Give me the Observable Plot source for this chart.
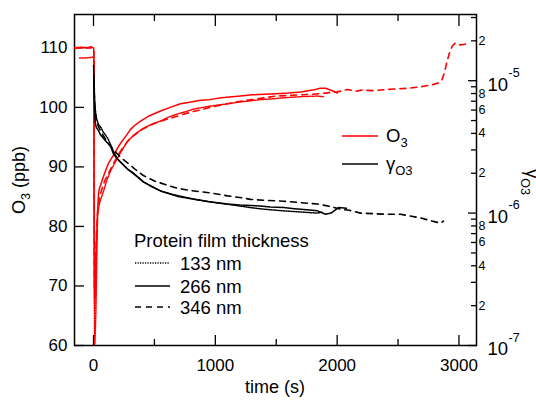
<!DOCTYPE html>
<html>
<head>
<meta charset="utf-8">
<script src="https://cdn.jsdelivr.net/npm/d3@7"></script>
<script src="https://cdn.jsdelivr.net/npm/@observablehq/plot@0.6"></script>
<style>
  html, body { margin: 0; padding: 0; background: #fff; }
  #chart { position: relative; width: 536px; height: 405px; font-family: "Liberation Sans", Arial, sans-serif; }
  #chart svg { position: absolute; left: 0; top: 0; }
</style>
</head>
<body>
<div id="chart"></div>
<script>
// ---- data: [time (s), O3 (ppb)] ----
const o3_133 = [[-115,108.3],[-60,108.3],[-20,108.4],[0,108.5],[3,108],[5,80],[8,62],[10,60],[13,61],[16,63],[20,66],[25,72],[30,78],[33,82],[50,84],[82,85.9],[110,87.8],[140,89.3],[170,90.5],[197,91.5],[240,93],[279,94.3],[340,95.5],[410,96.5],[480,97.2],[550,97.7],[620,98.4],[690,98.9],[760,99.3],[821,99.7],[950,100.2],[1100,100.6],[1200,100.9],[1289,101.1],[1371,101.3],[1450,101.4],[1560,101.6],[1700,101.8],[1839,101.9],[1888,101.8]];
const o3_266 = [[-156,110],[-100,110.1],[-50,110],[-20,110.2],[0,110],[3,109.5],[5,90],[7,70],[10,66],[13,72],[16,68],[20,75],[25,78],[30,80],[35,83],[41,85.5],[50,86.5],[60,87],[75,88],[98,89.3],[120,90.5],[150,91.5],[180,92.5],[210,93.6],[240,94.5],[270,95.3],[304,96.3],[340,97],[386,97.7],[450,98.5],[550,99.4],[630,100],[714,100.6],[800,100.9],[878,101.2],[950,101.3],[1050,101.6],[1207,101.9],[1300,102.1],[1400,102.2],[1500,102.3],[1600,102.4],[1700,102.6],[1800,102.9],[1860,103.2],[1905,103.2],[1960,102.8],[2003,102.4]];
const o3_346 = [[-156,110],[-80,110],[0,110],[3,109],[5,85],[8,70],[12,68],[18,74],[25,79],[35,83],[50,85],[80,87],[100,88],[150,90],[200,92],[250,93.5],[300,94.8],[400,96.3],[500,97.3],[600,98],[700,98.6],[800,99.2],[900,99.7],[1000,100.2],[1100,100.6],[1200,101],[1300,101.3],[1400,101.6],[1500,101.9],[1600,102],[1700,102.1],[1800,102.2],[1900,102.4],[2000,102.6],[2085,103],[2150,102.7],[2200,102.9],[2300,102.8],[2400,103],[2500,103.1],[2577,103.2],[2620,103.3],[2700,103.5],[2780,103.8],[2830,104.1],[2860,104.6],[2880,105.8],[2900,107.5],[2920,109],[2945,110.3],[2970,110.8],[3010,110.5],[3050,110.6],[3080,110.9]];
// ---- data: [time (s), gamma O3] ----
const g_133 = [[0,1.3e-5],[3,1.15e-5],[5,1e-5],[8,8e-6],[12,6.5e-6],[20,5.5e-6],[30,5e-6],[45,4.6e-6],[57,4.5e-6],[80,4.1e-6],[115,3.7e-6],[140,3.3e-6],[170,2.85e-6],[200,2.55e-6],[280,2.15e-6],[410,1.72e-6],[550,1.47e-6],[700,1.33e-6],[850,1.26e-6],[1000,1.2e-6],[1150,1.15e-6],[1289,1.1e-6],[1400,1.07e-6],[1560,1.04e-6],[1700,1.02e-6],[1839,1.0e-6],[1880,1.02e-6]];
const g_266 = [[2,1.1e-5],[5,8e-6],[8,6.5e-6],[12,5.2e-6],[18,4.6e-6],[25,4.4e-6],[41,4.2e-6],[57,3.9e-6],[100,3.5e-6],[140,3.2e-6],[164,2.8e-6],[197,2.55e-6],[279,2.15e-6],[330,2.0e-6],[410,1.72e-6],[480,1.58e-6],[550,1.47e-6],[650,1.38e-6],[750,1.32e-6],[821,1.28e-6],[950,1.22e-6],[1100,1.17e-6],[1200,1.15e-6],[1289,1.14e-6],[1370,1.13e-6],[1450,1.11e-6],[1560,1.1e-6],[1650,1.08e-6],[1750,1.06e-6],[1839,1.04e-6],[1905,0.98e-6],[1950,1.0e-6],[2011,1.1e-6],[2077,1.09e-6]];
const g_346 = [[3,1.0e-5],[6,8e-6],[10,6.5e-6],[20,5.2e-6],[40,4.5e-6],[70,4.0e-6],[100,3.6e-6],[140,3.2e-6],[180,2.9e-6],[230,2.6e-6],[279,2.4e-6],[340,2.15e-6],[410,1.92e-6],[500,1.75e-6],[600,1.63e-6],[690,1.54e-6],[800,1.48e-6],[960,1.42e-6],[1100,1.35e-6],[1231,1.3e-6],[1289,1.27e-6],[1400,1.25e-6],[1560,1.23e-6],[1700,1.2e-6],[1839,1.17e-6],[1950,1.12e-6],[2028,1.07e-6],[2100,1.05e-6],[2192,1.0e-6],[2300,0.99e-6],[2400,0.98e-6],[2520,0.98e-6],[2600,0.95e-6],[2684,0.92e-6],[2760,0.88e-6],[2848,0.84e-6],[2873,0.87e-6]];

// ---- ticks ----
const xMajor = [0, 1000, 2000, 3000];
const xMinor = [500, 1500, 2500];
const yTicks = [60, 70, 80, 90, 100, 110];
const gMajor = [1e-7, 1e-6, 1e-5];
const gMinor = [2e-7,3e-7,4e-7,5e-7,6e-7,7e-7,8e-7,9e-7,2e-6,3e-6,4e-6,5e-6,6e-6,7e-6,8e-6,9e-6,2e-5,3e-5];
const gMinorLabeled = [2e-7,4e-7,6e-7,8e-7,2e-6,4e-6,6e-6,8e-6,2e-5];
const gMinorText = ["2","4","6","8","2","4","6","8","2"];
const gMajorExp = ["-7", "-6", "-5"];
const thicknessLabels = ["133 nm", "266 nm", "346 nm"];

const W = 536, H = 405;
const M = {left: 74, right: 60, top: 14, bottom: 60};
const xDomain = [-156, 3144];
const FS = 17;
const dash = {"133": "1.2,1.3", "266": null, "346": "6,5"};

const common = {
  width: W, height: H,
  marginLeft: M.left, marginRight: M.right, marginTop: M.top, marginBottom: M.bottom,
};

const p1 = Plot.plot({
  ...common,
  style: {background: "transparent", fontFamily: "Liberation Sans, Arial, sans-serif", fontSize: FS + "px", overflow: "visible"},
  x: {domain: xDomain, label: null},
  y: {domain: [60, 115.6], label: null},
  marks: [
    Plot.frame({stroke: "black", strokeWidth: 1.5}),
    Plot.axisY({anchor: "left", ticks: yTicks, tickSize: 10, dx: 10, text: null, strokeWidth: 1.3, label: null}),
    Plot.axisY({anchor: "left", ticks: yTicks, tickSize: 0, tickPadding: 7, fontSize: FS, label: null}),
    Plot.axisX({anchor: "bottom", ticks: xMajor, tickSize: 10, dy: -10, text: null, strokeWidth: 1.3, label: null}),
    Plot.axisX({anchor: "bottom", ticks: xMinor, tickSize: 6, dy: -6, text: null, strokeWidth: 1.3, label: null}),
    Plot.axisX({anchor: "bottom", ticks: xMajor, tickSize: 0, tickPadding: 13, fontSize: FS, tickFormat: d => String(d), label: null}),
    Plot.axisX({anchor: "top", ticks: xMajor, tickSize: 11, dy: 11, text: null, strokeWidth: 1.3, label: null}),
    Plot.axisX({anchor: "top", ticks: xMinor, tickSize: 6, dy: 6, text: null, strokeWidth: 1.3, label: null}),
    Plot.line(o3_133, {x: "0", y: "1", stroke: "#ff0000", strokeWidth: 1.5, strokeDasharray: dash["133"], clip: true}),
    Plot.line(o3_346, {x: "0", y: "1", stroke: "#ff0000", strokeWidth: 1.6, strokeDasharray: dash["346"], clip: true}),
    Plot.line(o3_266, {x: "0", y: "1", stroke: "#ff0000", strokeWidth: 1.5, clip: true}),
  ]
});

const p2 = Plot.plot({
  ...common,
  style: {background: "transparent", fontFamily: "Liberation Sans, Arial, sans-serif", overflow: "visible"},
  x: {domain: xDomain, axis: null, label: null},
  y: {type: "log", domain: [1e-7, Math.pow(10, -4.5)], label: null},
  marks: [
    Plot.axisY({anchor: "right", ticks: gMajor, tickSize: 9, dx: -9, text: null, strokeWidth: 1.3, label: null}),
    Plot.axisY({anchor: "right", ticks: gMinor, tickSize: 6, dx: -6, text: null, strokeWidth: 1.3, label: null}),
    Plot.text(gMinorLabeled, {y: d => d, text: (d, i) => gMinorText[i], frameAnchor: "right", textAnchor: "start", dx: 2, fontSize: 12.5}),
    Plot.text(gMajor, {y: d => d, text: () => "10", frameAnchor: "right", textAnchor: "start", dx: 11, dy: 4, fontSize: 18.5}),
    Plot.text(gMajor, {y: d => d, text: (d, i) => gMajorExp[i], frameAnchor: "right", textAnchor: "start", dx: 32, dy: -8, fontSize: 12.5}),
    Plot.line(g_133, {x: "0", y: "1", stroke: "black", strokeWidth: 1.5, strokeDasharray: dash["133"], clip: true}),
    Plot.line(g_346, {x: "0", y: "1", stroke: "black", strokeWidth: 1.6, strokeDasharray: dash["346"], clip: true}),
    Plot.line(g_266, {x: "0", y: "1", stroke: "black", strokeWidth: 1.5, clip: true}),
  ]
});

const root = document.getElementById("chart");
root.appendChild(p1);
root.appendChild(p2);

// ---- titles & legends (added on top) ----
const svg = d3.select(p2);
const font = "Liberation Sans, Arial, sans-serif";
function txt(x, y, size, anchor) {
  return svg.append("text").attr("x", x).attr("y", y).attr("text-anchor", anchor || "start")
    .attr("font-family", font).attr("font-size", size).attr("fill", "black");
}

// y-left title
const yl = svg.append("text").attr("transform", "translate(25,180) rotate(-90)")
  .attr("text-anchor", "middle").attr("font-family", font).attr("font-size", 18).attr("fill", "black");
yl.append("tspan").text("O");
yl.append("tspan").attr("font-size", 12.5).attr("dy", 5).text("3");
yl.append("tspan").attr("dy", -5).text(" (ppb)");

// y-right title
const yr = svg.append("text").attr("transform", "translate(526,182) rotate(90)")
  .attr("text-anchor", "middle").attr("font-family", font).attr("font-size", 18).attr("fill", "black");
yr.append("tspan").text("γ");
yr.append("tspan").attr("font-size", 12.5).attr("dy", 5).text("O3");

// x title
txt(275, 393, 18, "middle").text("time (s)");

// species legend
svg.append("line").attr("x1", 342).attr("x2", 378).attr("y1", 136).attr("y2", 136).attr("stroke", "#ff0000").attr("stroke-width", 1.5);
const lo = txt(386, 142, 18.5);
lo.append("tspan").text("O");
lo.append("tspan").attr("font-size", 13).attr("dy", 5).text("3");
svg.append("line").attr("x1", 342).attr("x2", 378).attr("y1", 164).attr("y2", 164).attr("stroke", "black").attr("stroke-width", 1.5);
const lg = txt(386, 170, 18.5);
lg.append("tspan").text("γ");
lg.append("tspan").attr("font-size", 13).attr("dy", 5).text("O3");

// thickness legend
txt(134, 247, 18.5).text("Protein film thickness");
const rowsY = [263, 286, 307];
const dashes = [dash["133"], dash["266"], dash["346"]];
thicknessLabels.forEach((lab, i) => {
  svg.append("line").attr("x1", 135).attr("x2", 170).attr("y1", rowsY[i]).attr("y2", rowsY[i])
    .attr("stroke", "black").attr("stroke-width", 1.4).attr("stroke-dasharray", dashes[i]);
  txt(180, rowsY[i] + 6.5, 18.5).text(lab);
});
</script>
</body>
</html>
